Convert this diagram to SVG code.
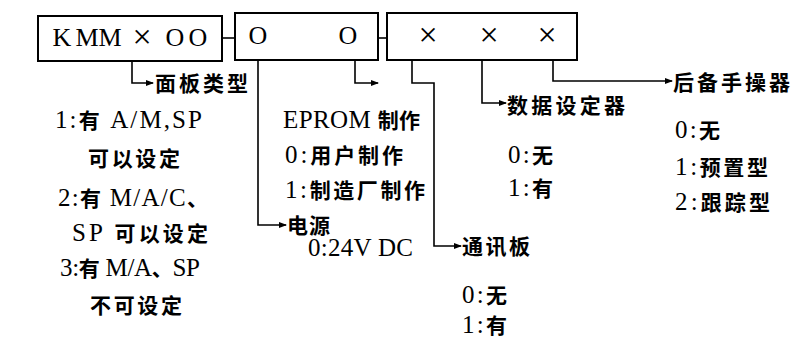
<svg xmlns="http://www.w3.org/2000/svg" width="800" height="340" viewBox="0 0 800 340">
<style>
  .box { fill: #fff; stroke: #000; stroke-width: 2; }
  .ln { fill: none; stroke: #000; stroke-width: 1.6; }
  .arr { fill: none; stroke: #000; stroke-width: 1.6; marker-end: url(#ah); }
  .code { font-family: "Liberation Serif", "Times New Roman", serif; font-size: 26px; fill: #000; text-anchor: middle; }
  .x { font-size: 34px; }
  .t { font-family: "Liberation Serif", "Noto Sans CJK SC", serif; font-size: 25px; fill: #000; }
  .c { font-family: "Noto Sans CJK SC", sans-serif; font-weight: bold; font-size: 21px; }
</style>
<defs>
  <marker id="ah" markerUnits="userSpaceOnUse" markerWidth="8" markerHeight="6" refX="7" refY="3" orient="auto">
    <path d="M0,0 L8,3 L0,6 z" fill="#000"/>
  </marker>
</defs>

<g id="box-model">
  <rect class="box" x="38" y="16" width="184" height="45"/>
  <text class="code" x="62" y="46">K</text>
  <text class="code" x="87" y="46">M</text>
  <text class="code" x="110" y="46">M</text>
  <text class="code x" x="142" y="48">×</text>
  <text class="code" x="175" y="46">O</text>
  <text class="code" x="198" y="46">O</text>
</g>
<g id="box-power">
  <rect class="box" x="235" y="13" width="143" height="47"/>
  <text class="code" x="258" y="44">O</text>
  <text class="code" x="348" y="44">O</text>
</g>
<g id="box-options">
  <rect class="box" x="387" y="13" width="190" height="47"/>
  <text class="code x" x="428" y="46">×</text>
  <text class="code x" x="489" y="46">×</text>
  <text class="code x" x="547" y="46">×</text>
</g>

<g id="connectors">
  <path class="ln" d="M222,38 H235"/>
  <path class="ln" d="M378,38 H387"/>
  <path class="arr" d="M132,61 V83 H153"/>
  <path class="arr" d="M258,60 V225 H286"/>
  <path class="arr" d="M355,60 V83 H378"/>
  <path class="arr" d="M412,60 V83 H434 V246 H461"/>
  <path class="arr" d="M482,60 V103 H506"/>
  <path class="arr" d="M553,60 V81 H672"/>
</g>

<g id="panel-type">
  <text class="t" x="155" y="91" textLength="93" lengthAdjust="spacing"><tspan class="c">面板类型</tspan></text>
  <text class="t" x="55" y="128" textLength="147" lengthAdjust="spacing">1:<tspan class="c">有</tspan> A/M,SP</text>
  <text class="t" x="88" y="166" textLength="92" lengthAdjust="spacing"><tspan class="c">可以设定</tspan></text>
  <text class="t" x="58" y="206" textLength="150" lengthAdjust="spacing">2:<tspan class="c">有</tspan> M/A/C<tspan class="c">、</tspan></text>
  <text class="t" x="72" y="241" textLength="136" lengthAdjust="spacing">SP <tspan class="c">可以设定</tspan></text>
  <text class="t" x="60" y="276" textLength="140" lengthAdjust="spacing">3:<tspan class="c">有</tspan> M/A<tspan class="c">、</tspan>SP</text>
  <text class="t" x="90" y="313" textLength="92" lengthAdjust="spacing"><tspan class="c">不可设定</tspan></text>
</g>

<g id="eprom">
  <text class="t" x="283" y="128" textLength="137" lengthAdjust="spacing">EPROM <tspan class="c">制作</tspan></text>
  <text class="t" x="285" y="163" textLength="118" lengthAdjust="spacing">0:<tspan class="c">用户制作</tspan></text>
  <text class="t" x="285" y="198" textLength="140" lengthAdjust="spacing">1:<tspan class="c">制造厂制作</tspan></text>
</g>

<g id="power">
  <text class="t" x="287" y="233" textLength="43" lengthAdjust="spacing"><tspan class="c">电源</tspan></text>
  <text class="t" x="308" y="256" textLength="105" lengthAdjust="spacing">0:24V DC</text>
</g>

<g id="comm-board">
  <text class="t" x="462" y="254" textLength="68" lengthAdjust="spacing"><tspan class="c">通讯板</tspan></text>
  <text class="t" x="462" y="303" textLength="45" lengthAdjust="spacing">0:<tspan class="c">无</tspan></text>
  <text class="t" x="462" y="333" textLength="45" lengthAdjust="spacing">1:<tspan class="c">有</tspan></text>
</g>

<g id="data-setter">
  <text class="t" x="507" y="113" textLength="118" lengthAdjust="spacing"><tspan class="c">数据设定器</tspan></text>
  <text class="t" x="508" y="163" textLength="45" lengthAdjust="spacing">0:<tspan class="c">无</tspan></text>
  <text class="t" x="508" y="196" textLength="45" lengthAdjust="spacing">1:<tspan class="c">有</tspan></text>
</g>

<g id="backup-manual">
  <text class="t" x="673" y="90" textLength="117" lengthAdjust="spacing"><tspan class="c">后备手操器</tspan></text>
  <text class="t" x="675" y="138" textLength="45" lengthAdjust="spacing">0:<tspan class="c">无</tspan></text>
  <text class="t" x="675" y="175" textLength="93" lengthAdjust="spacing">1:<tspan class="c">预置型</tspan></text>
  <text class="t" x="675" y="210" textLength="95" lengthAdjust="spacing">2:<tspan class="c">跟踪型</tspan></text>
</g>
</svg>
